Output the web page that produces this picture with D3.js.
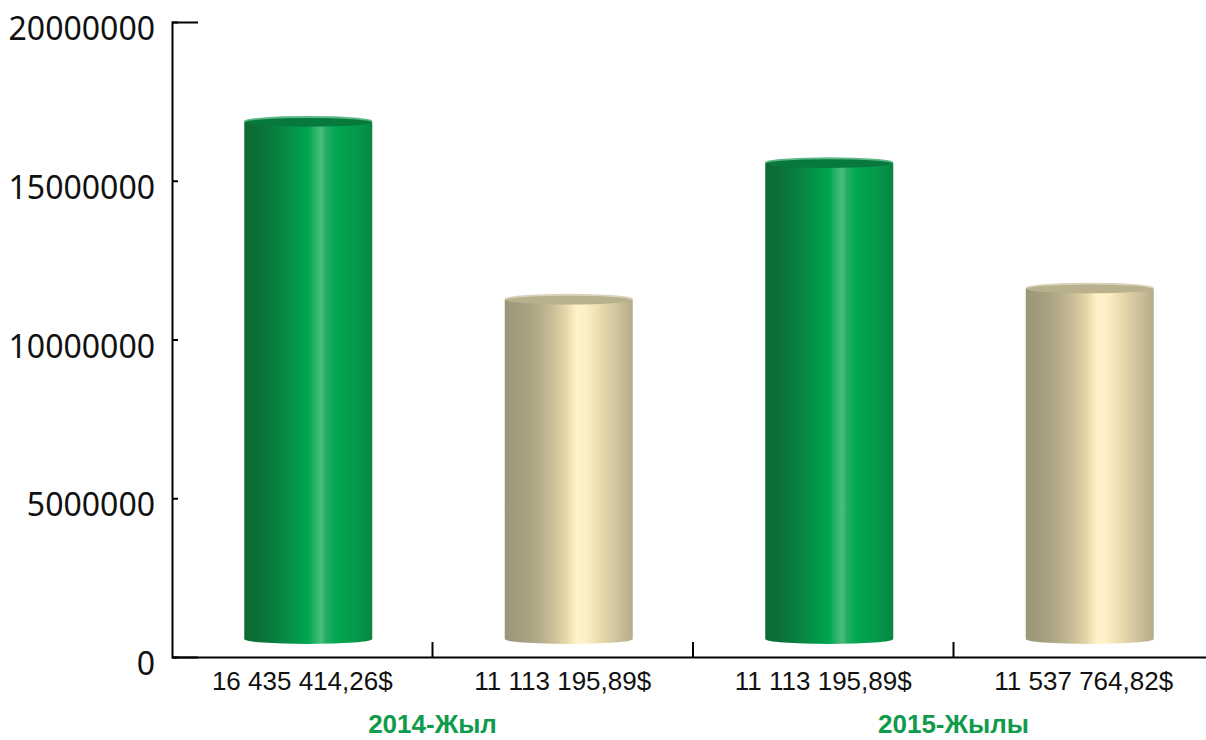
<!DOCTYPE html>
<html>
<head>
<meta charset="utf-8">
<script src="https://cdn.jsdelivr.net/npm/d3@7"></script>
<style>
  body { margin: 0; background: #fff; }
  svg { display: block; }
</style>
</head>
<body>
<div id="chart"></div>
<script>
// values (bar heights), labels as printed under each bar
const categories = ['a2014', 'b2014', 'a2015', 'b2015'];
const barValues = [16300000, 10700000, 15000000, 11050000];
const barLabels = ['16 435 414,26$', '11 113 195,89$', '11 113 195,89$', '11 537 764,82$'];
const barKinds = ['green', 'beige', 'green', 'beige'];
const groups = [
  { name: '2014-Жыл', cats: ['a2014', 'b2014'] },
  { name: '2015-Жылы', cats: ['a2015', 'b2015'] },
];
const yTicks = [0, 5000000, 10000000, 15000000, 20000000];

const width = 1206;
const height = 740;
const margin = { top: 22, right: -8, bottom: 83, left: 172 };
const depth = 18; // 3d floor shift of the cylinders

const svg = d3.select('#chart').append('svg')
  .attr('width', width)
  .attr('height', height);

const defs = svg.append('defs');

function addGradient(id, stops) {
  const g = defs.append('linearGradient')
    .attr('id', id)
    .attr('x1', '0%').attr('x2', '100%')
    .attr('y1', '0%').attr('y2', '0%');
  stops.forEach(([o, c]) => {
    g.append('stop').attr('offset', o).attr('stop-color', c);
  });
}

addGradient('body-green', [
  [0, '#0b6a34'], [0.12, '#0c7038'], [0.2, '#067a3c'], [0.3, '#0a8743'],
  [0.42, '#009a4b'], [0.5, '#00a651'], [0.56, '#2fb56c'], [0.6, '#4cbd80'],
  [0.64, '#22ae62'], [0.72, '#00a651'], [0.85, '#049b4c'], [0.95, '#068e46'], [1, '#0a8442'],
]);
addGradient('body-beige', [
  [0, '#9c9678'], [0.12, '#a39c7e'], [0.25, '#b2aa88'], [0.38, '#cabf98'],
  [0.48, '#e6d8a8'], [0.56, '#fff3cc'], [0.64, '#fbefc6'], [0.74, '#eadcac'],
  [0.86, '#d2c69e'], [1, '#b4ab88'],
]);

const topFill = { green: '#08793d', beige: '#b9b08d' };
const rimFill = { green: '#5fb888', beige: '#d8d2ba' };

const x = d3.scaleBand()
  .domain(categories)
  .range([margin.left, width - margin.right])
  .paddingInner(0)
  .paddingOuter(0);

const y = d3.scaleLinear()
  .domain([0, 20000000])
  .range([height - margin.bottom, margin.top]);

// cylinders
const bars = categories.map((c, i) => ({
  cat: c, value: barValues[i], kind: barKinds[i], label: barLabels[i],
}));

const rx = 64;
const ry = 5;

const barG = svg.append('g').selectAll('g')
  .data(bars)
  .join('g');

barG.each(function (d) {
  const g = d3.select(this);
  const cx = x(d.cat) + x.bandwidth() / 2 + 6;
  const yTop = y(d.value) - depth;
  const yBot = y(0) - depth;
  g.append('path')
    .attr('d', `M${cx - rx},${yTop} L${cx - rx},${yBot} A${rx},${ry} 0 0 0 ${cx + rx},${yBot} L${cx + rx},${yTop} Z`)
    .attr('fill', `url(#body-${d.kind})`);
  g.append('ellipse')
    .attr('cx', cx)
    .attr('cy', yTop - 0.5)
    .attr('rx', rx)
    .attr('ry', ry)
    .attr('fill', rimFill[d.kind]);
  g.append('ellipse')
    .attr('cx', cx)
    .attr('cy', yTop + 0.8)
    .attr('rx', rx - 1)
    .attr('ry', ry - 0.6)
    .attr('fill', topFill[d.kind]);
});

// y axis, ticks pointing inward
const yAxis = d3.axisLeft(y)
  .tickValues(yTicks)
  .tickFormat(d3.format('d'))
  .tickSizeInner(-6)
  .tickSizeOuter(-26)
  .tickPadding(17);

const yG = svg.append('g')
  .attr('transform', `translate(${margin.left},0)`)
  .call(yAxis);

yG.select('.domain').attr('stroke', '#000').attr('stroke-width', 2);
yG.selectAll('.tick line').attr('stroke', '#000').attr('stroke-width', 2);
yG.selectAll('.tick text')
  .attr('font-family', '"Noto Sans", sans-serif')
  .attr('font-size', 32)
  .attr('fill', '#111')
  .attr('dy', '0.55em');

// x axis
const xAxis = d3.axisBottom(x)
  .tickSize(0)
  .tickSizeOuter(0)
  .tickFormat((d, i) => barLabels[i]);

const xG = svg.append('g')
  .attr('transform', `translate(0,${y(0)})`)
  .call(xAxis);

xG.select('.domain').attr('stroke', '#000').attr('stroke-width', 2);
xG.selectAll('.tick text')
  .attr('font-family', '"Liberation Sans", Arial, sans-serif')
  .attr('font-size', 26)
  .attr('fill', '#111')
  .attr('y', 33)
  .attr('dy', 0);

// separators between categories, pointing up
xG.selectAll('.sep')
  .data(categories.slice(1))
  .join('line')
  .attr('class', 'sep')
  .attr('x1', (d) => x(d))
  .attr('x2', (d) => x(d))
  .attr('y1', 0)
  .attr('y2', -15)
  .attr('stroke', '#000')
  .attr('stroke-width', 2);

// group labels
svg.append('g').selectAll('text')
  .data(groups)
  .join('text')
  .attr('x', (d) => d3.mean(d.cats, (c) => x(c) + x.bandwidth() / 2))
  .attr('y', 733)
  .attr('text-anchor', 'middle')
  .attr('font-family', '"Liberation Sans", Arial, sans-serif')
  .attr('font-weight', 'bold')
  .attr('font-size', 26)
  .attr('fill', '#0f9a4c')
  .text((d) => d.name);
</script>
</body>
</html>
